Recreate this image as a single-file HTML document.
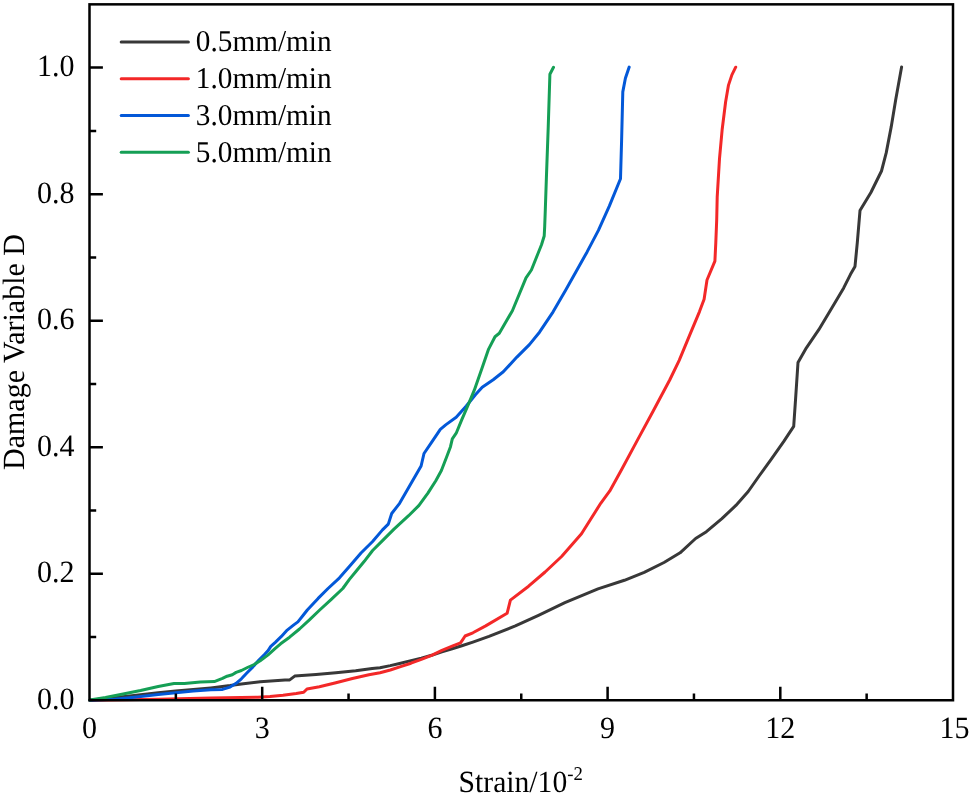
<!DOCTYPE html>
<html><head><meta charset="utf-8"><title>Damage variable vs strain</title>
<style>html,body{margin:0;padding:0;background:#fff;}body{width:969px;height:796px;overflow:hidden;}svg{display:block;will-change:transform;}text{font-family:"Liberation Serif",serif;font-size:30px;fill:#000;text-rendering:geometricPrecision;}</style></head><body>
<svg width="969" height="796" viewBox="0 0 969 796">
<rect width="969" height="796" fill="#fff"/>
<path d="M89.9 700.2 L131.9 695.8 L158.2 692.8 L175.7 691.1 L193.3 689.6 L210.8 687.9 L230.1 685.6 L241.4 683.9 L260.2 681.8 L285.0 679.9 L289.7 679.9 L294.7 676.1 L316.1 674.4 L335.9 672.7 L355.7 670.8 L372.2 668.4 L380.0 667.7 L390.3 665.6 L400.6 663.2 L411.0 660.6 L421.3 658.1 L431.6 655.3 L441.9 651.9 L452.2 648.8 L462.6 645.5 L472.9 642.1 L489.0 636.4 L515.4 625.9 L538.5 615.3 L564.9 602.7 L598.0 588.9 L624.4 580.3 L644.2 572.4 L664.0 562.5 L680.1 552.8 L695.6 538.5 L706.4 531.7 L721.9 518.7 L735.9 505.4 L748.2 491.5 L759.1 476.0 L771.5 458.9 L783.8 441.3 L793.7 426.4 L795.5 400.1 L798.0 362.5 L806.4 347.8 L818.8 329.7 L832.4 307.1 L843.7 287.9 L850.5 274.3 L855.0 266.4 L857.3 242.6 L860.0 210.6 L870.9 192.5 L881.5 171.0 L886.2 152.9 L891.2 126.9 L895.7 99.8 L901.6 67.0" fill="none" stroke="#383838" stroke-width="3.0" stroke-linejoin="round" stroke-linecap="round"/>
<path d="M89.9 700.2 L158.2 699.3 L210.8 698.1 L258.0 697.2 L270.0 696.4 L283.0 695.2 L296.2 693.6 L303.7 692.3 L307.0 689.0 L319.4 686.8 L335.9 682.7 L352.4 678.5 L368.9 674.8 L380.0 672.8 L390.3 670.0 L400.6 666.6 L411.0 663.2 L421.3 659.4 L431.6 655.3 L441.9 650.3 L452.2 646.2 L460.5 642.9 L462.6 639.8 L465.1 636.0 L472.9 632.8 L485.7 625.9 L507.1 613.3 L510.4 600.1 L528.6 586.2 L545.1 572.0 L561.6 556.5 L581.5 533.8 L600.7 503.3 L609.8 490.9 L621.1 470.5 L636.9 441.1 L652.8 411.7 L669.7 380.0 L679.2 360.3 L690.5 333.1 L699.5 311.6 L704.1 299.2 L707.0 280.0 L714.9 261.2 L715.8 242.6 L716.7 220.0 L717.2 197.1 L719.5 158.6 L722.2 129.2 L725.6 102.0 L728.5 85.1 L731.9 74.9 L735.7 67.2" fill="none" stroke="#f32828" stroke-width="3.0" stroke-linejoin="round" stroke-linecap="round"/>
<path d="M89.9 700.2 L114.3 699.3 L131.9 697.5 L158.2 694.6 L175.7 692.8 L193.3 691.1 L210.8 689.8 L222.5 689.4 L230.1 687.1 L236.1 683.3 L241.4 678.8 L246.6 673.2 L252.7 667.1 L258.7 660.3 L264.7 654.3 L268.1 650.6 L270.8 646.4 L275.3 642.3 L281.4 636.4 L287.2 630.1 L293.8 624.9 L297.9 621.9 L302.8 615.8 L307.3 610.0 L318.1 598.4 L328.0 588.5 L339.5 577.8 L351.1 564.6 L361.0 553.0 L372.6 541.5 L382.5 529.9 L388.3 524.1 L391.7 513.5 L399.6 503.3 L412.0 481.8 L421.1 466.0 L424.0 453.5 L432.4 441.1 L440.3 429.3 L446.0 424.6 L456.2 417.3 L466.3 406.0 L475.4 394.7 L482.2 387.2 L493.2 379.7 L503.3 371.8 L516.9 357.1 L529.4 344.6 L539.5 332.2 L553.1 311.8 L565.6 290.3 L575.7 272.2 L587.1 251.9 L598.4 230.4 L609.3 206.1 L620.5 178.8 L621.6 140.5 L622.8 91.9 L625.4 78.3 L629.2 67.1" fill="none" stroke="#0358d8" stroke-width="3.0" stroke-linejoin="round" stroke-linecap="round"/>
<path d="M89.9 700.0 L105.5 697.5 L123.1 694.0 L140.6 690.5 L158.2 686.5 L174.0 683.5 L184.5 683.5 L200.3 681.9 L214.3 681.6 L222.5 678.4 L227.1 676.2 L232.3 674.7 L236.1 672.4 L241.4 670.5 L247.4 667.5 L254.2 664.5 L260.2 660.7 L267.8 655.1 L275.3 648.3 L280.6 643.8 L289.6 637.2 L299.5 629.0 L309.4 619.9 L319.7 610.0 L331.3 599.3 L342.8 588.5 L349.4 579.4 L356.1 571.2 L364.3 561.3 L372.6 550.5 L382.5 540.6 L394.0 529.1 L408.6 515.7 L418.8 505.6 L427.9 493.1 L435.8 480.7 L441.4 470.5 L447.1 455.8 L450.5 446.7 L452.3 438.8 L456.2 433.2 L461.8 419.6 L468.6 403.8 L474.3 390.2 L481.9 368.4 L488.6 349.1 L495.0 336.7 L499.3 333.3 L512.4 310.7 L526.0 277.9 L531.4 270.0 L537.6 254.5 L541.5 244.8 L544.2 236.0 L544.7 226.4 L545.3 210.0 L546.4 177.6 L548.2 127.9 L549.9 74.2 L553.5 67.3" fill="none" stroke="#159f55" stroke-width="3.0" stroke-linejoin="round" stroke-linecap="round"/>
<rect x="89.50" y="4.35" width="863.50" height="695.90" fill="none" stroke="#000" stroke-width="2.5"/>
<path d="M175.85 700.25 V693.55 M262.20 700.25 V686.85 M348.55 700.25 V693.55 M434.90 700.25 V686.85 M521.25 700.25 V693.55 M607.60 700.25 V686.85 M693.95 700.25 V693.55 M780.30 700.25 V686.85 M866.65 700.25 V693.55 M89.50 636.99 H96.20 M89.50 573.72 H102.90 M89.50 510.46 H96.20 M89.50 447.20 H102.90 M89.50 383.93 H96.20 M89.50 320.67 H102.90 M89.50 257.40 H96.20 M89.50 194.14 H102.90 M89.50 130.88 H96.20 M89.50 67.61 H102.90" stroke="#000" stroke-width="2.5" fill="none"/>
<text transform="translate(89.50 738.30) scale(0.968 1)" text-anchor="middle" style="font-size:31.0px">0</text>
<text transform="translate(262.20 738.30) scale(0.968 1)" text-anchor="middle" style="font-size:31.0px">3</text>
<text transform="translate(434.90 738.30) scale(0.968 1)" text-anchor="middle" style="font-size:31.0px">6</text>
<text transform="translate(607.60 738.30) scale(0.968 1)" text-anchor="middle" style="font-size:31.0px">9</text>
<text transform="translate(780.30 738.30) scale(0.968 1)" text-anchor="middle" style="font-size:31.0px">12</text>
<text transform="translate(954.50 738.30) scale(0.968 1)" text-anchor="middle" style="font-size:31.0px">15</text>
<text transform="translate(74.40 708.75) scale(0.968 1)" text-anchor="end" style="font-size:31.0px">0.0</text>
<text transform="translate(74.40 582.22) scale(0.968 1)" text-anchor="end" style="font-size:31.0px">0.2</text>
<text transform="translate(74.40 455.70) scale(0.968 1)" text-anchor="end" style="font-size:31.0px">0.4</text>
<text transform="translate(74.40 329.17) scale(0.968 1)" text-anchor="end" style="font-size:31.0px">0.6</text>
<text transform="translate(74.40 202.64) scale(0.968 1)" text-anchor="end" style="font-size:31.0px">0.8</text>
<text transform="translate(74.40 76.11) scale(0.968 1)" text-anchor="end" style="font-size:31.0px">1.0</text>
<text transform="translate(458.60 792.30) scale(0.962 1)" style="font-size:30.8px">Strain/10<tspan font-size="19.5" dy="-12.5">-2</tspan></text>
<text transform="translate(24.20 352.00) rotate(-90) scale(0.974 1)" text-anchor="middle" style="font-size:30.8px">Damage Variable D</text>
<path d="M121.2 41.9 H188.4" stroke="#383838" stroke-width="3.0" stroke-linecap="round" fill="none"/>
<text transform="translate(195.80 51.20) scale(0.970 1)" style="font-size:30.2px">0.5mm/min</text>
<path d="M121.2 78.8 H188.4" stroke="#f32828" stroke-width="3.0" stroke-linecap="round" fill="none"/>
<text transform="translate(195.80 88.10) scale(0.970 1)" style="font-size:30.2px">1.0mm/min</text>
<path d="M121.2 115.5 H188.4" stroke="#0358d8" stroke-width="3.0" stroke-linecap="round" fill="none"/>
<text transform="translate(195.80 124.80) scale(0.970 1)" style="font-size:30.2px">3.0mm/min</text>
<path d="M121.2 152.2 H188.4" stroke="#159f55" stroke-width="3.0" stroke-linecap="round" fill="none"/>
<text transform="translate(195.80 161.50) scale(0.970 1)" style="font-size:30.2px">5.0mm/min</text>
</svg></body></html>
